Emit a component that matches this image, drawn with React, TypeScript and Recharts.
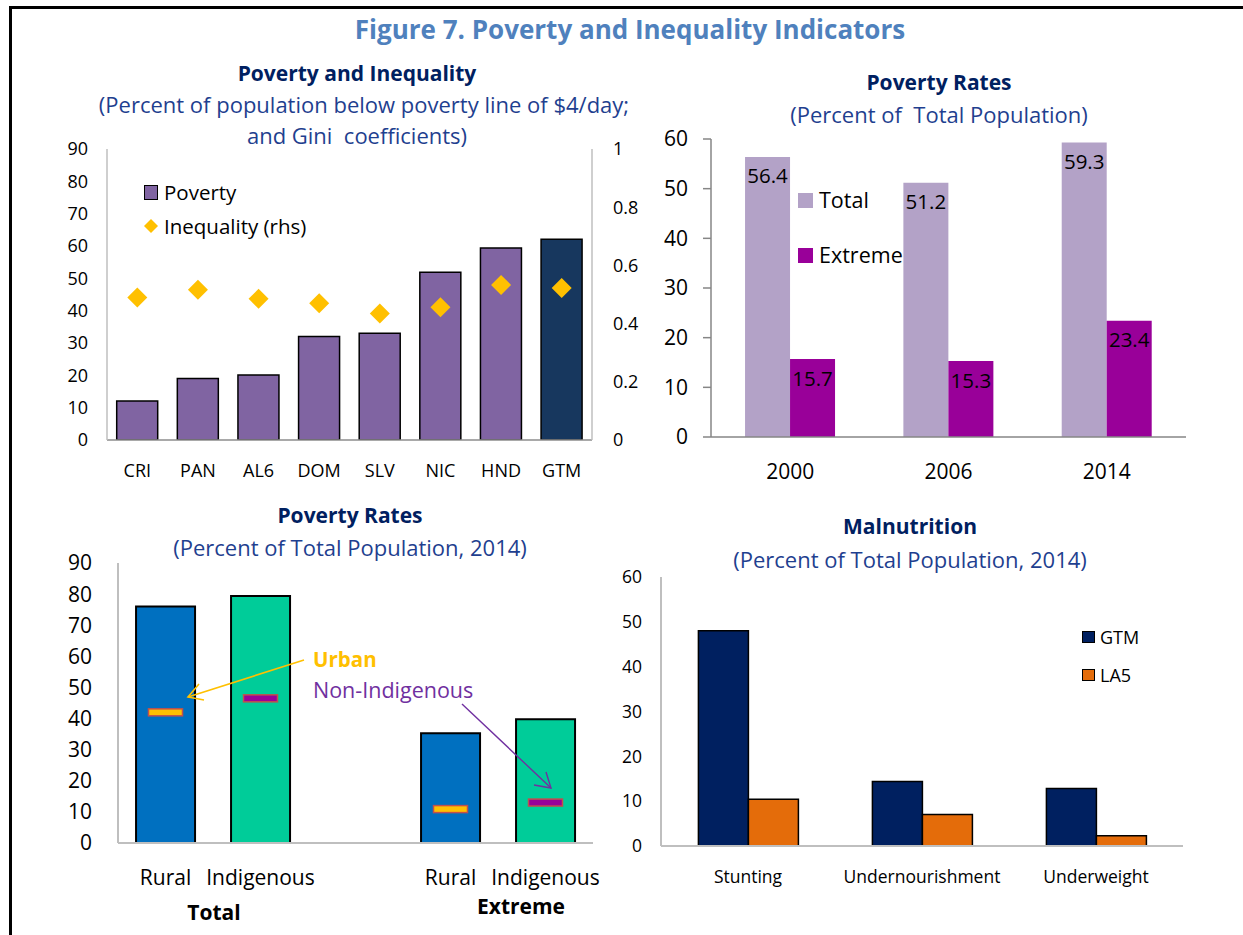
import React from "react";
import {
  ComposedChart,
  BarChart,
  Bar,
  Scatter,
  Cell,
  XAxis,
  YAxis,
  Legend,
  LabelList,
} from "recharts";

const FONT = "'Open Sans', 'Noto Sans', sans-serif";
const TITLE_BLUE = "#4F81BD";
const NAVY = "#002060";
const SUB_BLUE = "#1F3F8F";
const BOX_GRAY = "#BFBFBF";
const AXIS_GRAY = "#8C8C8C";
const GOLD = "#FFC000";
const MAGENTA = "#990099";
const VIOLET = "#7030A0";

// Poverty and inequality by country
const countries = ["CRI", "PAN", "AL6", "DOM", "SLV", "NIC", "HND", "GTM"];
const povertyRate = [12.1, 19.0, 20.1, 32.0, 33.0, 51.9, 59.4, 62.1];
const giniIndex = [0.49, 0.516, 0.485, 0.47, 0.435, 0.456, 0.533, 0.522];
const povertyTicks = [0, 10, 20, 30, 40, 50, 60, 70, 80, 90];
const giniTicks = [0, 0.2, 0.4, 0.6, 0.8, 1];

// Poverty rates over time
const years = ["2000", "2006", "2014"];
const totalPoverty = [56.4, 51.2, 59.3];
const extremePoverty = [15.7, 15.3, 23.4];
const rateTicks = [0, 10, 20, 30, 40, 50, 60];

// Rural / indigenous poverty, 2014 (third slot is the gap between groups)
const groupLabels = ["Rural", "Indigenous", "", "Rural", "Indigenous"];
const groupMeasure = ["Total", "Total", "", "Extreme", "Extreme"];
const groupPoverty = [76.0, 79.4, null, 35.3, 39.8];
const comparisonPoverty = [42.0, 46.5, null, 10.9, 13.0]; // urban / non-indigenous

// Malnutrition, 2014
const malnutritionTypes = ["Stunting", "Undernourishment", "Underweight"];
const gtmMalnutrition = [48.0, 14.4, 12.8];
const la5Malnutrition = [10.4, 7.0, 2.3];
const malnutritionTicks = [0, 10, 20, 30, 40, 50, 60];

const inequalityData = countries.map((country, i) => ({
  country,
  poverty: povertyRate[i],
  gini: giniIndex[i],
}));
const yearData = years.map((year, i) => ({
  year,
  total: totalPoverty[i],
  extreme: extremePoverty[i],
}));
const groupData = groupLabels.map((label, i) => ({
  key: `${groupMeasure[i]}-${label}-${i}`,
  label,
  rate: groupPoverty[i],
  comparison: comparisonPoverty[i],
}));
const malnutritionData = malnutritionTypes.map((type, i) => ({
  type,
  GTM: gtmMalnutrition[i],
  LA5: la5Malnutrition[i],
}));

function Caption({ cx, cy, size, bold = false, color, children }: any) {
  return (
    <div
      style={{
        position: "absolute",
        left: cx - 400,
        width: 800,
        top: cy - 0.531 * size,
        textAlign: "center",
        fontSize: size,
        lineHeight: 1,
        fontWeight: bold ? 700 : 400,
        color,
        whiteSpace: "pre",
      }}
    >
      {children}
    </div>
  );
}

function legendContent(order: string[], rowHeight: number, fontSize: number, boxW: number, boxH: number, border: boolean, gap: number) {
  return (props: any) => {
    const payload = props.payload || [];
    const items = order.map((name) => payload.find((p: any) => p.value === name)).filter(Boolean);
    return (
      <div style={{ fontFamily: FONT }}>
        {items.map((entry: any) => (
          <div
            key={entry.value}
            style={{ height: rowHeight, display: "flex", alignItems: "center", fontSize, lineHeight: 1, color: "#000", whiteSpace: "nowrap" }}
          >
            {entry.type === "diamond" ? (
              <svg width={boxW} height={boxW} style={{ display: "block" }}>
                <polygon
                  points={`${boxW / 2},0 ${boxW},${boxW / 2} ${boxW / 2},${boxW} 0,${boxW / 2}`}
                  fill={entry.color}
                />
              </svg>
            ) : (
              <span
                style={{
                  display: "block",
                  width: boxW,
                  height: boxH,
                  boxSizing: "border-box",
                  background: entry.color,
                  border: border ? "1.5px solid #000" : "none",
                }}
              />
            )}
            <span style={{ marginLeft: gap }}>{entry.value}</span>
          </div>
        ))}
      </div>
    );
  };
}

const renderDiamond = (props: any) => {
  const { cx, cy } = props;
  if (cx == null || cy == null) return null;
  const r = 10;
  return <polygon points={`${cx},${cy - r} ${cx + r},${cy} ${cx},${cy + r} ${cx - r},${cy}`} fill={GOLD} />;
};

const renderDash = (props: any) => {
  const { cx, cy, payload } = props;
  if (!payload || payload.comparison == null) return null;
  const fill = payload.label === "Rural" ? GOLD : MAGENTA;
  return <rect x={cx - 17} y={cy - 3.5} width={34} height={7} fill={fill} stroke="#C0504D" strokeWidth={1.5} />;
};

const tickStyle = (size: number) => ({ fill: "#000", fontSize: size, fontFamily: FONT });

function InequalityPanel() {
  return (
    <div style={{ position: "absolute", left: 0, top: 125 }}>
      <ComposedChart width={660} height={365} data={inequalityData} margin={{ top: 24, right: 0, bottom: 0, left: 0 }} barCategoryGap="16%">
        <XAxis dataKey="country" interval={0} height={50} tickSize={0} tickMargin={24} tickLine={false} axisLine={{ stroke: AXIS_GRAY, strokeWidth: 1.5 }} tick={tickStyle(18)} />
        <XAxis xAxisId="ticks" type="number" domain={[0, 8]} allowDataOverflow ticks={[1, 2, 3, 4, 5, 6, 7]} interval={0} mirror height={0} tick={false} axisLine={false} tickLine={{ stroke: AXIS_GRAY }} tickSize={6} />
        <XAxis xAxisId="top" orientation="top" mirror height={0} tick={false} tickLine={false} axisLine={{ stroke: BOX_GRAY, strokeWidth: 1.5 }} />
        <YAxis domain={[0, 90]} allowDataOverflow ticks={povertyTicks} interval={0} width={107} tickSize={0} tickMargin={19} tickLine={false} axisLine={{ stroke: BOX_GRAY, strokeWidth: 1.5 }} tick={tickStyle(18)} />
        <YAxis yAxisId="leftTicks" domain={[0, 90]} allowDataOverflow ticks={povertyTicks} interval={0} mirror width={0} tick={false} axisLine={false} tickLine={{ stroke: BOX_GRAY }} tickSize={6} />
        <YAxis yAxisId="rhs" orientation="right" domain={[0, 1]} allowDataOverflow ticks={giniTicks} interval={0} width={68} tickSize={0} tickMargin={21} tickLine={false} axisLine={{ stroke: BOX_GRAY, strokeWidth: 1.5 }} tick={tickStyle(18)} />
        <YAxis yAxisId="rhsTicks" orientation="right" domain={[0, 1]} allowDataOverflow ticks={giniTicks} interval={0} mirror width={0} tick={false} axisLine={false} tickLine={{ stroke: BOX_GRAY }} tickSize={6} />
        <Legend
          layout="vertical"
          align="center"
          verticalAlign="middle"
          wrapperStyle={{ left: 144, top: 50, width: "auto" }}
          content={legendContent(["Poverty", "Inequality (rhs)"], 34, 20.5, 14, 15, true, 6)}
        />
        <Bar dataKey="poverty" name="Poverty" fill="#8064A2" stroke="#000" strokeWidth={1.5} legendType="square" isAnimationActive={false}>
          {inequalityData.map((d) => (
            <Cell key={d.country} fill={d.country === "GTM" ? "#17375E" : "#8064A2"} />
          ))}
        </Bar>
        <Scatter dataKey="gini" name="Inequality (rhs)" yAxisId="rhs" fill={GOLD} legendType="diamond" shape={renderDiamond} isAnimationActive={false} />
      </ComposedChart>
    </div>
  );
}

function RatesPanel() {
  return (
    <div style={{ position: "absolute", left: 620, top: 125 }}>
      <BarChart width={623} height={375} data={yearData} margin={{ top: 14, right: 57, bottom: 0, left: 0 }} barCategoryGap="21.5%" barGap={0}>
        <XAxis dataKey="year" height={63} tickSize={0} tickMargin={27} tickLine={false} axisLine={{ stroke: "#868686", strokeWidth: 1.5 }} tick={tickStyle(21)} />
        <XAxis xAxisId="ticks" type="number" domain={[0, 3]} allowDataOverflow ticks={[0, 1, 2, 3]} interval={0} mirror height={0} tick={false} axisLine={false} tickLine={{ stroke: "#868686", strokeWidth: 1.5 }} tickSize={-9} />
        <XAxis xAxisId="top" orientation="top" mirror height={0} tick={false} tickLine={false} axisLine={{ stroke: BOX_GRAY, strokeWidth: 1.5 }} />
        <YAxis domain={[0, 60]} allowDataOverflow ticks={rateTicks} interval={0} width={91} tickSize={8} tickMargin={15} tickLine={{ stroke: "#868686", strokeWidth: 1.5 }} axisLine={{ stroke: "#868686", strokeWidth: 1.5 }} tick={tickStyle(21)} />
        <YAxis yAxisId="border" orientation="right" domain={[0, 60]} allowDataOverflow mirror width={0} tick={false} tickLine={false} axisLine={{ stroke: BOX_GRAY, strokeWidth: 1.5 }} />
        <Legend
          layout="vertical"
          align="center"
          verticalAlign="middle"
          wrapperStyle={{ left: 178, top: 47.5, width: "auto" }}
          content={legendContent(["Total", "Extreme"], 55, 21.5, 15, 15, false, 6)}
        />
        <Bar dataKey="total" name="Total" fill="#B3A2C7" legendType="square" isAnimationActive={false}>
          <LabelList dataKey="total" position="insideTop" offset={12} fill="#000" fontSize={20.5} fontFamily={FONT} formatter={(v: any) => Number(v).toFixed(1)} />
        </Bar>
        <Bar dataKey="extreme" name="Extreme" fill={MAGENTA} legendType="square" isAnimationActive={false}>
          <LabelList dataKey="extreme" position="insideTop" offset={12} fill="#000" fontSize={20.5} fontFamily={FONT} formatter={(v: any) => Number(v).toFixed(1)} />
        </Bar>
      </BarChart>
    </div>
  );
}

function GroupsPanel() {
  return (
    <div style={{ position: "absolute", left: 0, top: 500 }}>
      <ComposedChart width={620} height={435} data={groupData} margin={{ top: 63, right: 27, bottom: 0, left: 0 }} barCategoryGap="19%">
        <XAxis dataKey="key" interval={0} height={92} tickSize={0} tickMargin={27} tickLine={false} axisLine={{ stroke: BOX_GRAY, strokeWidth: 2 }} tick={tickStyle(21)} tickFormatter={(_v: any, i: number) => groupLabels[i]} />
        <XAxis xAxisId="ticks" type="number" domain={[0, 5]} allowDataOverflow ticks={[1, 2, 3, 4]} interval={0} mirror height={0} tick={false} axisLine={false} tickLine={{ stroke: BOX_GRAY, strokeWidth: 1.5 }} tickSize={8} />
        <XAxis xAxisId="top" orientation="top" mirror height={0} tick={false} tickLine={false} axisLine={{ stroke: BOX_GRAY, strokeWidth: 2 }} />
        <YAxis domain={[0, 90]} allowDataOverflow ticks={povertyTicks} interval={0} width={118} tickSize={0} tickMargin={26} tickLine={false} axisLine={{ stroke: BOX_GRAY, strokeWidth: 2 }} tick={tickStyle(21)} />
        <YAxis yAxisId="leftTicks" domain={[0, 90]} allowDataOverflow ticks={povertyTicks} interval={0} mirror width={0} tick={false} axisLine={false} tickLine={{ stroke: BOX_GRAY, strokeWidth: 1.5 }} tickSize={7} />
        <YAxis yAxisId="border" orientation="right" domain={[0, 90]} allowDataOverflow mirror width={0} tick={false} tickLine={false} axisLine={{ stroke: BOX_GRAY, strokeWidth: 2 }} />
        <Bar dataKey="rate" fill="#0070C0" stroke="#000" strokeWidth={2} isAnimationActive={false}>
          {groupData.map((d) => (
            <Cell key={d.key} fill={d.label === "Rural" ? "#0070C0" : "#00CC99"} />
          ))}
        </Bar>
        <Scatter dataKey="comparison" shape={renderDash} isAnimationActive={false} />
      </ComposedChart>
      <svg width={620} height={435} style={{ position: "absolute", left: 0, top: 0, pointerEvents: "none", fontFamily: FONT }}>
        <line x1={304} y1={160} x2={188} y2={197} stroke={GOLD} strokeWidth={1.6} />
        <polyline points="199,184 188,197 204,200" fill="none" stroke={GOLD} strokeWidth={1.6} />
        <line x1={462} y1={204} x2={551} y2={288} stroke={VIOLET} strokeWidth={1.4} />
        <polyline points="546,272 551,288 534,285" fill="none" stroke={VIOLET} strokeWidth={1.4} />
        <text x={313} y={167} fontSize={20.5} fontWeight={700} fill={GOLD}>Urban</text>
        <text x={313} y={198} fontSize={21.5} fill={VIOLET}>Non-Indigenous</text>
        <text x={214} y={420} fontSize={21} fontWeight={700} fill="#000" textAnchor="middle">Total</text>
        <text x={521} y={414} fontSize={21} fontWeight={700} fill="#000" textAnchor="middle">Extreme</text>
      </svg>
    </div>
  );
}

function MalnutritionPanel() {
  return (
    <div style={{ position: "absolute", left: 620, top: 500 }}>
      <BarChart width={623} height={435} data={malnutritionData} margin={{ top: 77, right: 60, bottom: 0, left: 0 }} barCategoryGap="21.5%" barGap={0}>
        <XAxis dataKey="type" interval={0} height={89} tickSize={0} tickMargin={25} tickLine={false} axisLine={{ stroke: BOX_GRAY, strokeWidth: 2 }} tick={tickStyle(17.5)} />
        <XAxis xAxisId="ticks" type="number" domain={[0, 3]} allowDataOverflow ticks={[1, 2]} interval={0} mirror height={0} tick={false} axisLine={false} tickLine={{ stroke: BOX_GRAY, strokeWidth: 1.5 }} tickSize={6} />
        <XAxis xAxisId="top" orientation="top" mirror height={0} tick={false} tickLine={false} axisLine={{ stroke: BOX_GRAY, strokeWidth: 2 }} />
        <YAxis domain={[0, 60]} allowDataOverflow ticks={malnutritionTicks} interval={0} width={41} tickSize={0} tickMargin={19} tickLine={false} axisLine={{ stroke: BOX_GRAY, strokeWidth: 2 }} tick={tickStyle(17.5)} />
        <YAxis yAxisId="leftTicks" domain={[0, 60]} allowDataOverflow ticks={malnutritionTicks} interval={0} mirror width={0} tick={false} axisLine={false} tickLine={{ stroke: BOX_GRAY, strokeWidth: 1.5 }} tickSize={5} />
        <YAxis yAxisId="border" orientation="right" domain={[0, 60]} allowDataOverflow mirror width={0} tick={false} tickLine={false} axisLine={{ stroke: BOX_GRAY, strokeWidth: 2 }} />
        <Legend
          layout="vertical"
          align="center"
          verticalAlign="middle"
          wrapperStyle={{ left: 462, top: 118, width: "auto" }}
          content={legendContent(["GTM", "LA5"], 38, 18, 13, 12, true, 5)}
        />
        <Bar dataKey="GTM" name="GTM" fill={NAVY} stroke="#000" strokeWidth={1.5} legendType="square" isAnimationActive={false} />
        <Bar dataKey="LA5" name="LA5" fill="#E46C0A" stroke="#000" strokeWidth={1.5} legendType="square" isAnimationActive={false} />
      </BarChart>
    </div>
  );
}

export default function App() {
  return (
    <div
      style={{
        position: "absolute",
        left: 0,
        top: 0,
        width: 1243,
        height: 935,
        overflow: "hidden",
        background: "#fff",
        fontFamily: FONT,
      }}
    >
      <div style={{ position: "absolute", left: 9, top: 6, width: 1300, height: 1000, borderLeft: "3px solid #000", borderTop: "3px solid #000" }} />

      <Caption cx={630} cy={29.5} size={26} bold color={TITLE_BLUE}>Figure 7. Poverty and Inequality Indicators</Caption>

      <Caption cx={357} cy={74} size={21} bold color={NAVY}>Poverty and Inequality</Caption>
      <Caption cx={364} cy={105} size={22} color={SUB_BLUE}>(Percent of population below poverty line of $4/day;</Caption>
      <Caption cx={357} cy={136} size={22} color={SUB_BLUE}>and Gini  coefficients)</Caption>

      <Caption cx={939} cy={83} size={21} bold color={NAVY}>Poverty Rates</Caption>
      <Caption cx={939} cy={115} size={22} color={SUB_BLUE}>(Percent of  Total Population)</Caption>

      <Caption cx={350} cy={516} size={21} bold color={NAVY}>Poverty Rates</Caption>
      <Caption cx={350} cy={548} size={22} color={SUB_BLUE}>(Percent of Total Population, 2014)</Caption>

      <Caption cx={910} cy={527} size={21} bold color={NAVY}>Malnutrition</Caption>
      <Caption cx={910} cy={560} size={22} color={SUB_BLUE}>(Percent of Total Population, 2014)</Caption>

      <InequalityPanel />
      <RatesPanel />
      <GroupsPanel />
      <MalnutritionPanel />
    </div>
  );
}
